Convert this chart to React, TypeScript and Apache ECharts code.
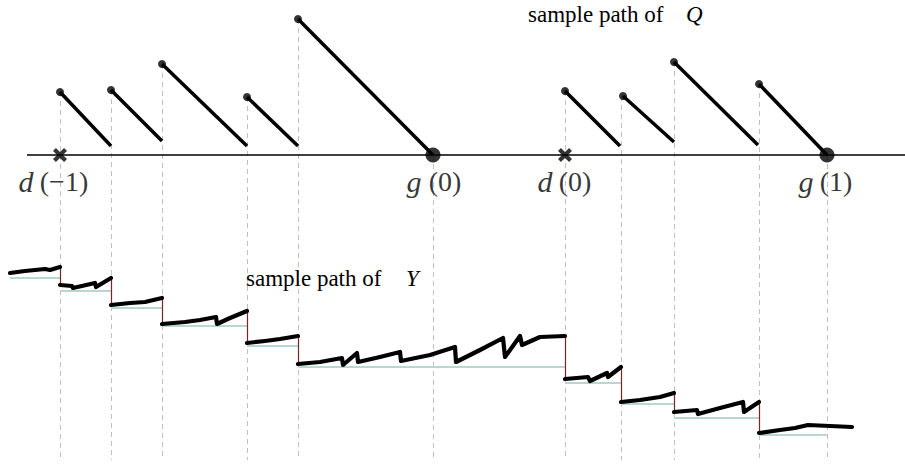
import React, { useEffect, useRef } from "react";
import * as echarts from "echarts";

// Time axis (t) and the two processes: Q (workload, top) and Y (bottom).
const tMax = 90.5;
const qRange = [-31.5, 15.5];
const yRange = [0, 47];

// Event epochs where the dashed guides are drawn, and where each guide starts on the Q scale.
const eventTimes = [6.0, 11.1, 16.2, 24.7, 29.8, 43.3, 56.5, 62.1, 67.4, 75.9, 82.7];
const eventTops = [6.3, 6.5, 9.1, 5.8, 13.6, 0, 6.4, 5.9, 9.3, 7.1, 0];
const guideBottom = -30.5;

// Q sample path: each piece starts at a jump (dot) and drains linearly.
const qStarts = [
  [6.0, 6.3], [11.1, 6.5], [16.2, 9.1], [24.7, 5.8], [29.8, 13.6],
  [56.5, 6.4], [62.3, 5.9], [67.4, 9.3], [75.9, 7.1],
];
const qEnds = [
  [11.1, 0.9], [16.2, 1.4], [24.7, 0.9], [29.8, 0.9], [43.3, 0],
  [62.0, 0.9], [67.4, 1.3], [75.8, 1.0], [82.7, 0],
];
const emptyTimes = [43.3, 82.7]; // g(0), g(1)
const departTimes = [6.0, 56.5]; // d(-1), d(0)
const axisFrom = 2.7;

// Epoch labels: italic function name to the left, argument to the right of the epoch.
const labelTimes = [6.0, 43.3, 56.5, 82.7];
const labelNames = ["d", "g", "d", "g"];
const labelArgs = ["(−1)", "(0)", "(0)", "(1)"];
const nameOffsets = [-34, -19, -20, -21];
const argOffsets = [4, 12, 10, 9];

// Y sample path, one polyline per inter-event piece.
const yPaths = [
  [[1.0, 19.7], [2.5, 19.9], [3.5, 20.0], [4.5, 20.1], [5.0, 20.0], [6.0, 20.3]],
  [[6.0, 18.5], [7.2, 18.4], [7.3, 18.2], [9.5, 18.7], [9.6, 18.3], [11.1, 19.2]],
  [[11.1, 16.5], [13.0, 16.7], [14.5, 16.8], [16.2, 17.2]],
  [[16.2, 14.6], [18.5, 14.8], [20.0, 15.0], [21.6, 15.3], [21.7, 14.6], [23.0, 15.2], [24.7, 15.9]],
  [[24.7, 12.7], [26.5, 12.9], [28.0, 13.1], [29.8, 13.4]],
  [
    [29.8, 10.6], [32.0, 10.8], [34.2, 11.2], [34.3, 10.5], [35.7, 11.7], [35.8, 10.8],
    [38.0, 11.3], [40.0, 11.8], [40.1, 10.9], [43.0, 11.5], [45.5, 12.3], [45.6, 10.8],
    [48.0, 12.0], [50.3, 13.2], [50.5, 11.3], [52.0, 13.4], [52.2, 12.5], [54.0, 13.3], [56.5, 13.4],
  ],
  [[56.5, 9.1], [58.8, 9.3], [59.0, 8.9], [60.7, 9.7], [60.8, 9.3], [62.1, 10.3]],
  [[62.1, 6.8], [64.0, 7.0], [66.0, 7.3], [67.4, 7.7]],
  [[67.4, 5.8], [69.7, 6.0], [69.8, 5.6], [72.0, 6.2], [74.3, 6.8], [74.4, 5.8], [75.9, 6.8]],
  [[75.9, 3.7], [78.0, 4.0], [79.5, 4.2], [80.8, 4.5], [83.0, 4.4], [85.2, 4.3]],
];

// Reference level of each Y piece: [from, to, level]
const yBases = [
  [1.0, 6.0, 19.2], [6.0, 11.1, 17.9], [11.1, 16.2, 16.2], [16.2, 24.7, 14.4],
  [24.7, 29.8, 12.4], [29.8, 56.5, 10.3], [56.5, 62.1, 8.7], [62.1, 67.4, 6.6],
  [67.4, 75.9, 5.2], [75.9, 82.7, 3.5],
];

const serif = "Liberation Serif";
const crossSymbol =
  "path://M0,2.5 L2.5,0 L6,3.5 L9.5,0 L12,2.5 L8.5,6 L12,9.5 L9.5,12 L6,8.5 L2.5,12 L0,9.5 L3.5,6 Z";

export default function App() {
  const ref = useRef<HTMLDivElement>(null);

  useEffect(() => {
    if (!ref.current) return;
    const chart = echarts.init(ref.current, null, { renderer: "svg" });

    const jumps = yPaths.slice(1).map((p, i) => {
      const prev = yPaths[i];
      return { coords: [[p[0][0], prev[prev.length - 1][1]], [p[0][0], p[0][1]]] };
    });

    const labelSeries = (texts: string[], offsets: number[], italic: boolean, size: number) => ({
      type: "scatter", xAxisIndex: 0, yAxisIndex: 0, z: 5, silent: true,
      symbolSize: 0,
      data: labelTimes.map((t, i) => ({
        value: [t, 0],
        label: {
          show: true, position: "bottom", distance: 11, offset: [offsets[i], 0],
          formatter: texts[i], align: "center",
          fontFamily: serif, fontStyle: italic ? "italic" : "normal", fontSize: size,
          color: "#000", lineHeight: 30,
        },
      })),
    });

    chart.setOption({
      animation: false,
      backgroundColor: "#ffffff",
      textStyle: { fontFamily: serif },
      grid: { left: 0, right: 0, top: 0, bottom: 0 },
      xAxis: { type: "value", min: 0, max: tMax, show: false },
      yAxis: [
        { type: "value", min: qRange[0], max: qRange[1], show: false },
        { type: "value", min: yRange[0], max: yRange[1], show: false },
      ],
      graphic: [
        {
          type: "text", x: 528, y: 14, z: 10,
          style: { text: "sample path of", font: `23px ${serif}`, fill: "#000", textVerticalAlign: "middle" },
        },
        {
          type: "text", x: 686, y: 14, z: 10,
          style: { text: "Q", font: `italic 23px ${serif}`, fill: "#000", textVerticalAlign: "middle" },
        },
        {
          type: "text", x: 246, y: 278, z: 10,
          style: { text: "sample path of", font: `23px ${serif}`, fill: "#000", textVerticalAlign: "middle" },
        },
        {
          type: "text", x: 406, y: 278, z: 10,
          style: { text: "Y", font: `italic 23px ${serif}`, fill: "#000", textVerticalAlign: "middle" },
        },
      ],
      series: [
        {
          type: "lines", coordinateSystem: "cartesian2d", xAxisIndex: 0, yAxisIndex: 0, z: 1, silent: true,
          lineStyle: { color: "#c6bfbf", width: 1, type: [5, 4], opacity: 1 },
          data: eventTimes.map((t, i) => ({ coords: [[t, eventTops[i]], [t, guideBottom]] })),
        },
        {
          type: "lines", coordinateSystem: "cartesian2d", xAxisIndex: 0, yAxisIndex: 0, z: 2, silent: true,
          lineStyle: { color: "#000", width: 1.5, opacity: 1 },
          data: [{ coords: [[axisFrom, 0], [tMax, 0]] }],
        },
        {
          type: "lines", coordinateSystem: "cartesian2d", xAxisIndex: 0, yAxisIndex: 0, z: 3, silent: true,
          lineStyle: { color: "#000", width: 3.5, opacity: 1 },
          data: qStarts.map((s, i) => ({ coords: [s, qEnds[i]] })),
        },
        {
          type: "scatter", xAxisIndex: 0, yAxisIndex: 0, z: 4, silent: true,
          symbolSize: 8, itemStyle: { color: "#000" },
          data: qStarts,
        },
        {
          type: "scatter", xAxisIndex: 0, yAxisIndex: 0, z: 4, silent: true,
          symbolSize: 15, itemStyle: { color: "#000" },
          data: emptyTimes.map((t) => [t, 0]),
        },
        {
          type: "scatter", xAxisIndex: 0, yAxisIndex: 0, z: 4, silent: true,
          symbol: crossSymbol, symbolSize: 14, itemStyle: { color: "#000" },
          data: departTimes.map((t) => [t, 0]),
        },
        labelSeries(labelNames, nameOffsets, true, 30),
        labelSeries(labelArgs, argOffsets, false, 28),
        {
          type: "lines", coordinateSystem: "cartesian2d", xAxisIndex: 0, yAxisIndex: 1, z: 2, silent: true,
          lineStyle: { color: "#b7d6d4", width: 2, opacity: 1 },
          data: yBases.map((b) => ({ coords: [[b[0], b[2]], [b[1], b[2]]] })),
        },
        {
          type: "lines", coordinateSystem: "cartesian2d", xAxisIndex: 0, yAxisIndex: 1, z: 3, silent: true,
          lineStyle: { color: "#7a2424", width: 1.2, opacity: 1 },
          data: jumps,
        },
        {
          type: "lines", coordinateSystem: "cartesian2d", xAxisIndex: 0, yAxisIndex: 1, z: 4, silent: true,
          polyline: true,
          lineStyle: { color: "#000", width: 4.2, opacity: 1, join: "round", cap: "round" },
          data: yPaths.map((p) => ({ coords: p })),
        },
      ],
    });

    return () => chart.dispose();
  }, []);

  return (
    <div
      ref={ref}
      style={{ position: "fixed", left: 0, top: 0, width: 905, height: 470, background: "#fff" }}
    />
  );
}
